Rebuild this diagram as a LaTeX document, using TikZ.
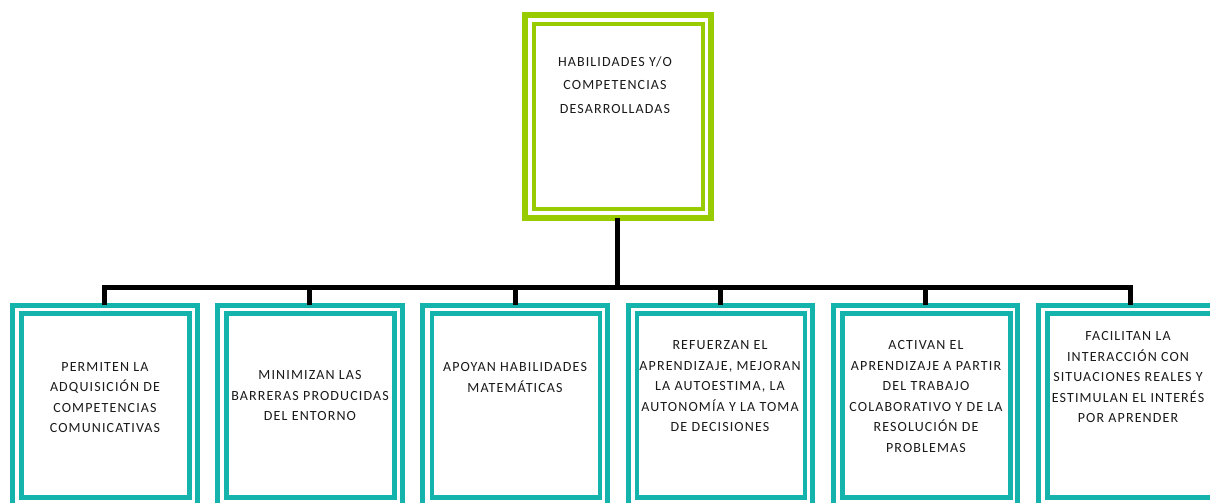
\documentclass[tikz,border=0pt]{standalone}
\usepackage{fontspec}
\newfontfamily\boxfont{Carlito}[LetterSpace=8]
\definecolor{limegreen}{HTML}{99CC00}
\definecolor{tealline}{HTML}{14B4AD}
\definecolor{inkgray}{HTML}{1A1A1A}
\tikzset{
  outerframe/.style={draw, rectangle, outer sep=0pt, inner sep=0pt, fill=white},
  innerframe/.style={draw, rectangle, outer sep=0pt, inner sep=0pt},
  headouter/.style={outerframe, draw=limegreen, line width=6pt},
  headinner/.style={innerframe, draw=limegreen, line width=4.5pt},
  itemouter/.style={outerframe, draw=tealline, line width=5pt,
    minimum width=184.5pt, minimum height=225pt},
  iteminner/.style={innerframe, draw=tealline, line width=4.5pt,
    minimum width=168pt, minimum height=184pt},
  headtext/.style={align=center, text=inkgray, inner sep=0pt,
    font=\boxfont\fontsize{14}{23.3}\selectfont},
  itemtext/.style={align=center, text=inkgray, inner sep=0pt,
    font=\boxfont\fontsize{14}{20.5}\selectfont},
  conn/.style={draw=black, line width=5pt}
}
\begin{document}
\begin{tikzpicture}[x=1pt, y=-1pt]
\useasboundingbox (0,0) rectangle (1210,503);
\clip (0,0) rectangle (1210,503);

% top heading box
\node[headouter, minimum width=185.5pt, minimum height=202.5pt] (top) at (617.75,116.25) {};
\node[headinner, minimum width=169pt, minimum height=185pt] (topin) at (618.5,116.5) {};
\node[headtext] (toptext) at (615,85) {HABILIDADES Y/O\\COMPETENCIAS\\DESARROLLADAS};

% item boxes, 205.2 apart
\node[itemouter] (b1) at (104.75,417.5) {};
\node[itemouter] (b2) at (309.95,417.5) {};
\node[itemouter] (b3) at (515.15,417.5) {};
\node[itemouter] (b4) at (720.35,417.5) {};
\node[itemouter] (b5) at (925.55,417.5) {};
\node[itemouter] (b6) at (1130.75,417.5) {};

\node[iteminner] (b1in) at (105.5,405.5) {};
\node[iteminner] (b2in) at (310.7,405.5) {};
\node[iteminner] (b3in) at (515.9,405.5) {};
\node[iteminner] (b4in) at (721.1,405.5) {};
\node[iteminner] (b5in) at (926.3,405.5) {};
\node[iteminner] (b6in) at (1131.5,405.5) {};

\node[itemtext] (t1) at (105,397.5) {PERMITEN LA\\ADQUISICIÓN DE\\COMPETENCIAS\\COMUNICATIVAS};
\node[itemtext] (t2) at (310,396) {MINIMIZAN LAS\\BARRERAS PRODUCIDAS\\DEL ENTORNO};
\node[itemtext] (t3) at (515,377.5) {APOYAN HABILIDADES\\MATEMÁTICAS};
\node[itemtext] (t4) at (720,386.5) {REFUERZAN EL\\APRENDIZAJE, MEJORAN\\LA AUTOESTIMA, LA\\AUTONOMÍA Y LA TOMA\\DE DECISIONES};
\node[itemtext] (t5) at (926,396.5) {ACTIVAN EL\\APRENDIZAJE A PARTIR\\DEL TRABAJO\\COLABORATIVO Y DE LA\\RESOLUCIÓN DE\\PROBLEMAS};
\node[itemtext] (t6) at (1128,377.5) {FACILITAN LA\\INTERACCIÓN CON\\SITUACIONES REALES Y\\ESTIMULAN EL INTERÉS\\POR APRENDER};

% connectors
\coordinate (bus) at (617.75,287);
\draw[conn] (top.south) -- (bus);
\draw[conn] (b1.north) |- (bus) -| (b6.north);
\draw[conn] (b2.north) -- (b2.north |- bus);
\draw[conn] (b3.north) -- (b3.north |- bus);
\draw[conn] (b4.north) -- (b4.north |- bus);
\draw[conn] (b5.north) -- (b5.north |- bus);
\end{tikzpicture}
\end{document}
